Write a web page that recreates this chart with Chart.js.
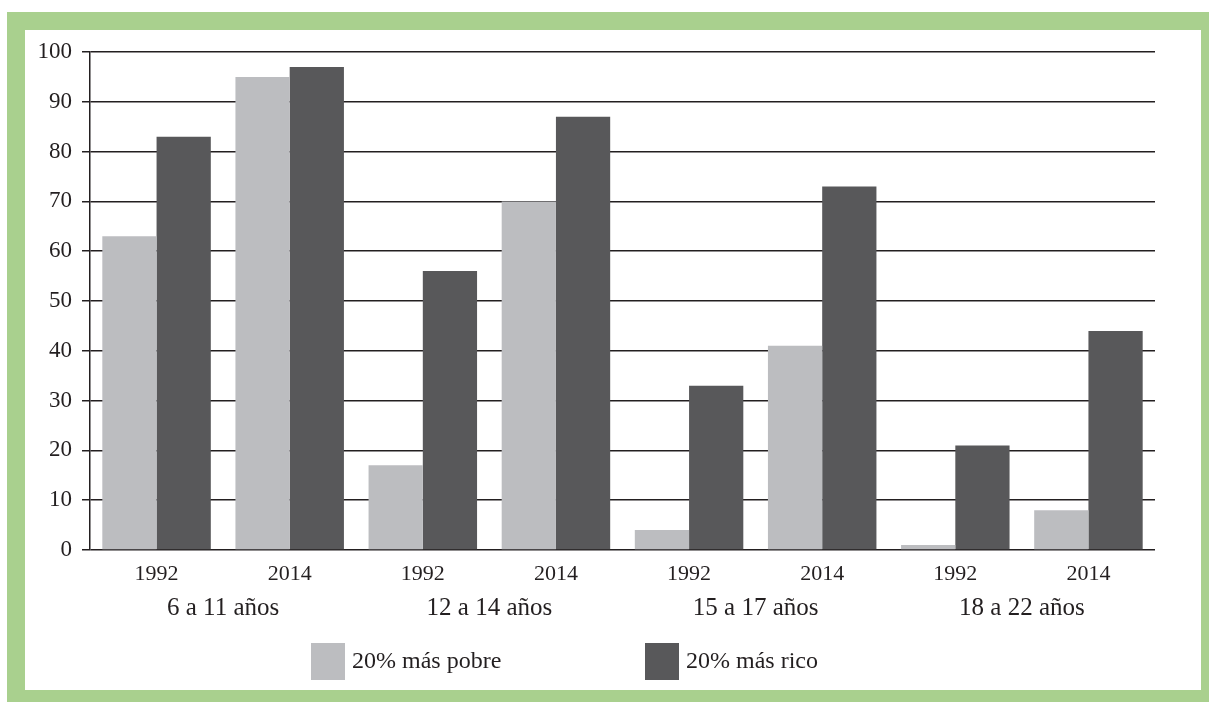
<!DOCTYPE html>
<html>
<head>
<meta charset="utf-8">
<script src="https://cdn.jsdelivr.net/npm/chart.js@4.4.1/dist/chart.umd.min.js"></script>
<style>
    html, body { margin: 0; padding: 0; background: #fff; }
    #frame { position: absolute; left: 7px; top: 12px; width: 1202px; height: 690px; background: #a9d08e; }
    #inner { position: absolute; left: 25px; top: 30px; width: 1176px; height: 660px; background: #fff; }
    #wrap { position: absolute; left: 0; top: 0; width: 1209px; height: 702px; }
</style>
</head>
<body>
<div id="frame"></div>
<div id="inner"></div>
<div id="wrap"><canvas id="graph" width="1209" height="702"></canvas></div>
<script>
let years = ["1992", "2014", "1992", "2014", "1992", "2014", "1992", "2014"];
let groups = ["6 a 11 años", "12 a 14 años", "15 a 17 años", "18 a 22 años"];
let pobre = [63, 95, 17, 70, 4, 41, 1, 8];
let rico = [83, 97, 56, 87, 33, 73, 21, 44];
let seriesNames = ["20% más pobre", "20% más rico"];
let seriesColors = ["#bcbdc0", "#58585a"];

const font = "'Liberation Serif', 'DejaVu Serif', serif";
const ink = "#231f20";

// legend drawn by hand so the boxes sit where the original has them
const legendPlugin = {
    id: "boxLegend",
    afterDraw(chart) {
        let ctx = chart.ctx;
        let starts = [311, 645];
        ctx.save();
        ctx.font = "24px " + font;
        ctx.textBaseline = "middle";
        for(let i = 0; i < seriesNames.length; i++){
            ctx.fillStyle = seriesColors[i];
            ctx.fillRect(starts[i], 643, 34, 37);
            ctx.fillStyle = ink;
            ctx.fillText(seriesNames[i], starts[i] + 41, 662);
        }
        ctx.restore();
    }
};

const data = {
    labels: years,
    datasets: [{
        label: seriesNames[0],
        backgroundColor: seriesColors[0],
        data: pobre
    }, {
        label: seriesNames[1],
        backgroundColor: seriesColors[1],
        data: rico
    }]
};

const config = {
    type: "bar",
    data: data,
    plugins: [legendPlugin],
    options: {
        responsive: false,
        animation: false,
        layout: { padding: { left: 20, right: 54, top: 52, bottom: 80 } },
        datasets: { bar: { categoryPercentage: 0.815, barPercentage: 1.0 } },
        plugins: {
            legend: { display: false },
            tooltip: { enabled: false }
        },
        scales: {
            x: {
                grid: { display: false },
                border: { display: false },
                ticks: { color: ink, font: { family: font, size: 22 }, padding: 3 },
                afterFit: (s) => { s.height = 35; }
            },
            x2: {
                type: "category",
                labels: groups,
                offset: true,
                position: "bottom",
                grid: { display: false },
                border: { display: false },
                ticks: { color: ink, font: { family: font, size: 25 }, padding: 0 },
                afterFit: (s) => { s.height = 37; }
            },
            y: {
                min: 0,
                max: 100,
                ticks: { stepSize: 10, color: ink, font: { family: font, size: 23 }, padding: 10 },
                grid: { color: ink, lineWidth: 1.5, tickLength: 8 },
                border: { color: ink, width: 1.5 },
                afterFit: (s) => { s.width = 70; }
            }
        }
    }
};

let myChart = new Chart(document.getElementById("graph"), config);
</script>
</body>
</html>
